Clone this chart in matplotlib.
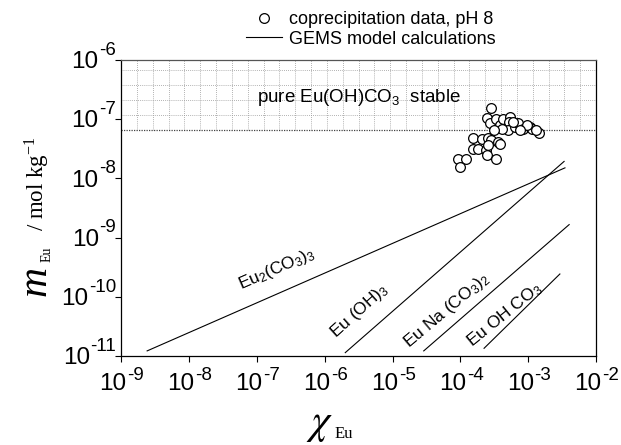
import matplotlib
matplotlib.use("Agg")
import matplotlib.pyplot as plt
import matplotlib.transforms as mtransforms
from matplotlib.lines import Line2D
import numpy as np

plt.rcParams['font.family'] = ['Liberation Sans', 'DejaVu Sans']
plt.rcParams['mathtext.fontset'] = 'custom'
plt.rcParams['mathtext.rm'] = 'Liberation Sans'
plt.rcParams['mathtext.it'] = 'Liberation Sans:italic'
plt.rcParams['mathtext.bf'] = 'Liberation Sans:bold'

# ---- data ----
x_data = [2.86e-4, 2.44e-4, 2.70e-4, 3.40e-4, 3.80e-4, 4.25e-4, 5.33e-4, 5.25e-4,
          5.07e-4, 6.32e-4, 7.08e-4, 8.38e-4, 1.05e-3, 1.15e-3, 1.43e-3, 4.16e-4,
          1.52e-4, 2.06e-4, 2.53e-4, 2.86e-4, 3.59e-4, 3.80e-4, 1.53e-4, 1.82e-4,
          2.41e-4, 2.55e-4, 2.44e-4, 3.40e-4, 9.12e-5, 1.22e-4, 1.00e-4, 5.90e-4,
          9.51e-4, 3.10e-4, 7.50e-4, 1.29e-3]
m_data = [1.57e-7, 1.04e-7, 8.73e-8, 1.00e-7, 7.91e-8, 1.03e-7, 1.08e-7, 9.08e-8,
          6.52e-8, 7.46e-8, 8.73e-8, 6.95e-8, 7.40e-8, 6.95e-8, 5.79e-8, 6.95e-8,
          4.76e-8, 4.71e-8, 4.76e-8, 4.41e-8, 4.12e-8, 3.87e-8, 3.16e-8, 3.18e-8,
          2.99e-8, 3.62e-8, 2.45e-8, 2.14e-8, 2.16e-8, 2.12e-8, 1.58e-8, 9.00e-8,
          7.91e-8, 6.52e-8, 6.52e-8, 6.52e-8]

# model lines (endpoints)
line_names = [r'Eu$_2$(CO$_3$)$_3$', r'Eu (OH)$_3$', r'Eu Na (CO$_3$)$_2$', r'Eu OH CO$_3$']
line_x = [[2.42e-9, 3.47e-3], [2.01e-6, 3.37e-3], [2.88e-5, 4.0e-3], [2.23e-4, 2.92e-3]]
line_m = [[1.22e-11, 1.51e-8], [1.14e-11, 1.94e-8], [1.22e-11, 1.66e-9], [1.35e-11, 2.43e-10]]
label_x = [1.95e-7, 3.27e-6, 6.3e-5, 4.5e-4]
label_m = [3.0e-10, 5.8e-11, 5.9e-11, 4.95e-11]
label_rot = [23.5, 42, 40, 39]

threshold_m = 6.5e-8   # pure Eu(OH)CO3 stable above this

xtick_exp = [-9, -8, -7, -6, -5, -4, -3, -2]
ytick_exp = [-11, -10, -9, -8, -7, -6]

fig = plt.figure(figsize=(6.21, 4.45), dpi=100)
ax = fig.add_axes([0.195, 0.20, 0.765, 0.665])
ax.set_xscale('log')
ax.set_yscale('log')
ax.set_xlim(1e-9, 1e-2)
ax.set_ylim(1e-11, 1e-6)

# hatched "stable" region: dotted grid above the threshold
blend = mtransforms.blended_transform_factory(ax.transAxes, ax.transData)
for k in range(1, 30):
    ax.plot([k / 30, k / 30], [threshold_m, 1e-6], transform=blend,
            color='#999999', lw=0.6, ls=(0, (1, 1.5)), zorder=1)
for k in range(1, 5):
    yy = threshold_m * 10 ** (0.254 * k)
    ax.plot([0, 1], [yy, yy], transform=blend, color='#999999', lw=0.6,
            ls=(0, (1, 1.5)), zorder=1)
ax.plot([0, 1], [threshold_m, threshold_m], transform=blend, color='#444444',
        lw=0.9, ls=(0, (1, 1)), zorder=1)

ax.text(3.16e-6, 2.36e-7, r'pure Eu(OH)CO$_3$  stable', fontsize=13.5, ha='center',
        va='center', zorder=3)

for xs, ms in zip(line_x, line_m):
    ax.plot(xs, ms, color='black', lw=0.8, zorder=2)
for name, lx, lm, rot in zip(line_names, label_x, label_m, label_rot):
    ax.text(lx, lm, name, fontsize=12.5, rotation=rot, ha='center', va='center',
            rotation_mode='anchor', zorder=3)

ax.plot(x_data, m_data, ls='none', marker='o', ms=7, mfc='white', mec='black',
        mew=0.9, zorder=4)

xticks = [10.0 ** e for e in xtick_exp]
yticks = [10.0 ** e for e in ytick_exp]
ax.set_xticks(xticks)
ax.set_yticks(yticks)
ax.minorticks_off()
ax.set_xticklabels([])
ax.set_yticklabels([])
ax.tick_params(axis='both', which='major', direction='out', length=4, width=0.8)
for s in ax.spines.values():
    s.set_linewidth(0.9)
ax.spines['top'].set_color('#555555')

# tick labels drawn as "10" + large exponent
base_fs, exp_fs = 17.5, 13.5
xtr = ax.get_xaxis_transform()
ytr = ax.get_yaxis_transform()
for v, e in zip(xticks, xtick_exp):
    b = ax.annotate('10', xy=(v, 0), xycoords=xtr, xytext=(4, -12),
                    textcoords='offset points', ha='right', va='top',
                    fontsize=base_fs, annotation_clip=False)
    ax.annotate('-%d' % abs(e), xy=(1, 1), xycoords=b, xytext=(0.5, 4),
                textcoords='offset points', ha='left', va='top',
                fontsize=exp_fs, annotation_clip=False)
for v, e in zip(yticks, ytick_exp):
    ex = ax.annotate('-%d' % abs(e), xy=(0, v), xycoords=ytr, xytext=(-3.5, 7),
                     textcoords='offset points', ha='right', va='center',
                     fontsize=exp_fs, annotation_clip=False)
    ax.annotate('10', xy=(0, v), xycoords=(ex, ytr), xytext=(-0.5, -1.5),
                textcoords='offset points', ha='right', va='center',
                fontsize=base_fs, annotation_clip=False)

# axis labels
fig.text(0.057, 0.369, 'm', family='Liberation Serif', style='italic', fontsize=30,
         rotation=90, ha='center', va='center')
fig.text(0.076, 0.428, 'Eu', family='Liberation Serif', fontsize=10,
         rotation=90, ha='center', va='center')
fig.text(0.059, 0.588, r'/ mol kg$^{\mathregular{-1}}$', family='Liberation Serif',
         fontsize=16.5, rotation=90, ha='center', va='center', math_fontfamily='stix')

fig.text(0.515, 0.048, r'$\chi$', fontsize=30, ha='center', va='center',
         math_fontfamily='stix')
fig.text(0.553, 0.025, 'Eu', family='Liberation Serif', fontsize=12,
         ha='center', va='center')

handles = [Line2D([], [], ls='none', marker='o', ms=7, mfc='white', mec='black', mew=0.9),
           Line2D([], [], color='black', lw=0.8)]
fig.legend(handles, ['coprecipitation data, pH 8', 'GEMS model calculations'],
           loc='upper center', bbox_to_anchor=(0.597, 1.0), frameon=False,
           fontsize=13, handlelength=2.0, handletextpad=0.4, labelspacing=0.15,
           borderaxespad=0.2)

fig.savefig('out.png', dpi=100)
